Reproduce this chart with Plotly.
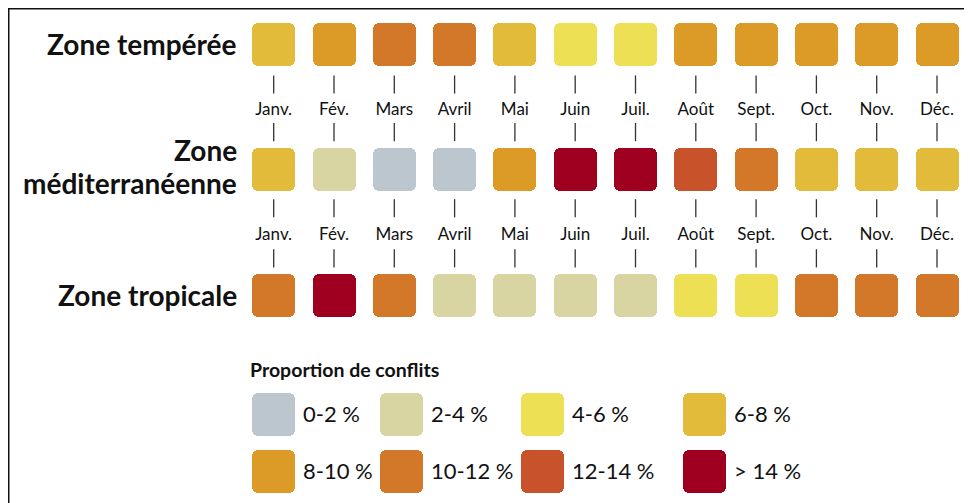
import plotly.graph_objects as go

# ---------------- data ----------------
months = ["Janv.", "Fév.", "Mars", "Avril", "Mai", "Juin",
          "Juil.", "Août", "Sept.", "Oct.", "Nov.", "Déc."]
zones = ["Zone tempérée", "Zone<br>méditerranéenne", "Zone tropicale"]
class_labels = ["0-2 %", "2-4 %", "4-6 %", "6-8 %",
                "8-10 %", "10-12 %", "12-14 %", "> 14 %"]
class_colors = ["#bcc6ce", "#d8d5a2", "#ede055", "#e3bb3b",
                "#dc9b27", "#d37828", "#c85229", "#a00020"]
# class index (into class_labels) per month
zone_temperee = [3, 4, 5, 5, 3, 2, 2, 4, 4, 4, 4, 4]
zone_mediterraneenne = [3, 1, 0, 0, 4, 7, 7, 6, 5, 3, 3, 3]
zone_tropicale = [5, 7, 5, 1, 1, 1, 1, 2, 2, 5, 5, 5]
legend_title = "Proportion de conflits"

# ---------------- layout constants (figure pixels) ----------------
W, H = 972, 503
COL0, COLSTEP = 265.7, 60.3
ROW0, ROWSTEP = 36.7, 125.15
SQ = 43
RAD = 6.5
FONT = "Lato"
TXT = "#111111"

x_range = [(0 - COL0) / COLSTEP, (W - COL0) / COLSTEP]
y_range = [(H - ROW0) / ROWSTEP, (0 - ROW0) / ROWSTEP]

bw = SQ / COLSTEP
hy = SQ / ROWSTEP / 2
ov = hy * 0.5

rows = [zone_temperee, zone_mediterraneenne, zone_tropicale]
xs, zs, cols = [], [], []
for zi, row in enumerate(rows):
    for mi, c in enumerate(row):
        xs.append(mi)
        zs.append(zi)
        cols.append(class_colors[c])

fig = go.Figure()
n = len(xs)
for sign in (1, -1):
    fig.add_trace(go.Bar(x=xs, y=[sign * (hy + ov)] * n,
                         base=[z - sign * ov for z in zs], width=bw,
                         marker=dict(color=cols, cornerradius=RAD, line=dict(width=0)),
                         hoverinfo="skip", showlegend=False))

# month labels between rows
label_rows = [0.524, 1.525]
lx, ly, lt = [], [], []
for m in label_rows:
    for i, mo in enumerate(months):
        lx.append(i); ly.append(m); lt.append(mo)
fig.add_trace(go.Scatter(x=lx, y=ly, text=lt, mode="text",
                         textfont=dict(family=FONT, size=17, color=TXT),
                         hoverinfo="skip", showlegend=False))

# tick marks above / below month labels
tick_rows = [0.318, 0.698, 1.307, 1.707]
tx, ty = [], []
for t in tick_rows:
    for i in range(len(months)):
        tx.append(i); ty.append(t)
fig.add_trace(go.Scatter(x=tx, y=ty, mode="markers",
                         marker=dict(symbol="line-ns", size=13,
                                     line=dict(color="#333333", width=1.3)),
                         hoverinfo="skip", showlegend=False))

annotations = []
# zone labels
LBL_RIGHT = 231
LINE_H = 33
for zi, z in enumerate(zones):
    parts = z.split("<br>")
    for j, p in enumerate(parts):
        off = -0.5 if len(parts) == 1 else -3.5 + (j - (len(parts) - 1) / 2) * LINE_H
        annotations.append(dict(x=LBL_RIGHT, xref="x2", y=zi + off / ROWSTEP, yref="y",
                                text="<b>%s</b>" % p, showarrow=False,
                                xanchor="right", yanchor="middle",
                                font=dict(family=FONT, size=28, color=TXT)))

# ---------------- legend (pixel axes) ----------------
LEG_X = [265.5, 393.5, 534.5, 696.5]
LEG_Y = [406.5, 463.0]
lgx, lgy, lgc = [], [], []
for k, lab in enumerate(class_labels):
    lgx.append(LEG_X[k % 4]); lgy.append(LEG_Y[k // 4]); lgc.append(class_colors[k])
h2 = SQ / 2
ov2 = h2 * 0.5
for sign in (1, -1):
    fig.add_trace(go.Bar(x=lgx, y=[sign * (h2 + ov2)] * 8,
                         base=[v - sign * ov2 for v in lgy], width=SQ,
                         xaxis="x2", yaxis="y2",
                         marker=dict(color=lgc, cornerradius=RAD, line=dict(width=0)),
                         hoverinfo="skip", showlegend=False))

for k, lab in enumerate(class_labels):
    annotations.append(dict(x=LEG_X[k % 4] + SQ / 2 + 6, y=LEG_Y[k // 4] - 1,
                            xref="x2", yref="y2",
                            text=lab, showarrow=False, xanchor="left", yanchor="middle",
                            font=dict(family=FONT, size=22, color=TXT)))
annotations.append(dict(x=240, y=361.5, xref="x2", yref="y2",
                        text="<b>%s</b>" % legend_title,
                        showarrow=False, xanchor="left", yanchor="middle",
                        font=dict(family=FONT, size=19.5, color=TXT)))

shapes = [
    dict(type="line", xref="x2", yref="y2", x0=0, x1=W + 2, y0=0.75, y1=0.75,
         line=dict(color="#111111", width=1.5)),
    dict(type="line", xref="x2", yref="y2", x0=0.75, x1=0.75, y0=0, y1=H + 2,
         line=dict(color="#111111", width=1.5)),
]

fig.update_layout(
    width=W, height=H,
    margin=dict(l=0, r=0, t=0, b=0, pad=0),
    paper_bgcolor="white", plot_bgcolor="white",
    barmode="overlay", bargap=0,
    showlegend=False,
    annotations=annotations, shapes=shapes,
    xaxis=dict(range=x_range, visible=False, fixedrange=True),
    yaxis=dict(range=y_range, visible=False, fixedrange=True),
    xaxis2=dict(range=[0, W], overlaying="x", visible=False, fixedrange=True),
    yaxis2=dict(range=[H, 0], overlaying="y", visible=False, fixedrange=True),
)

fig.write_html("out.html")
